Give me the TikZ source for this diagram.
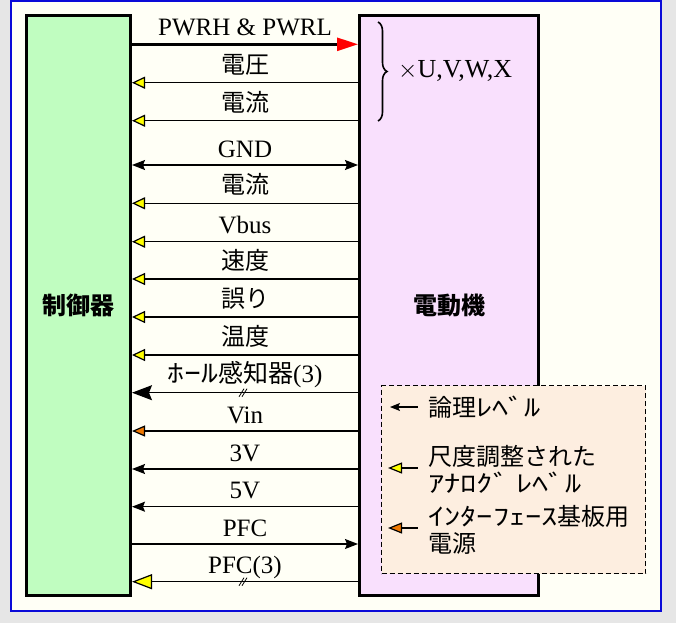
\documentclass[tikz,border=0pt]{standalone}
\usepackage{fontspec}
\usepackage{graphicx}
\setmainfont{Liberation Serif}
\newfontfamily\jp{Noto Sans CJK JP}
\newcommand\hkana[1]{\scalebox{1.35}[1]{#1}}
\usetikzlibrary{arrows.meta,decorations.pathreplacing}
\definecolor{outerbg}{HTML}{E6E6E6}
\definecolor{innerbg}{HTML}{FFFFF6}
\definecolor{frameblue}{HTML}{0A0AD8}
\definecolor{ctrlgreen}{HTML}{C0FDC0}
\definecolor{motorpink}{HTML}{F9E0FD}
\definecolor{legendfill}{HTML}{FDEEE0}
\definecolor{tipyellow}{HTML}{FFFF00}
\definecolor{tiporange}{HTML}{F07800}
\tikzset{
  ytip/.tip={Triangle[length=13pt,width=12pt,fill=tipyellow]},
  bytip/.tip={Triangle[length=20pt,width=15pt,fill=tipyellow]},
  bbtip/.tip={Stealth[length=20pt,width=15pt,inset=3pt]},
  btip/.tip={Stealth[length=13pt,width=10pt,inset=2pt]},
  rtip/.tip={Triangle[length=21pt,width=13pt,color=red]},
  otip/.tip={Triangle[length=13pt,width=11pt,fill=tiporange]},
  lbtip/.tip={Stealth[length=10pt,width=8pt,inset=2pt]},
  lytip/.tip={Triangle[length=14pt,width=11pt,fill=tipyellow]},
  lotip/.tip={Triangle[length=14pt,width=11pt,fill=tiporange]},
}
\begin{document}
\begin{tikzpicture}[x=1pt,y=-1pt,
  box/.style={draw=black, line width=3pt, inner sep=0pt, minimum height=580pt,
              font=\jp\bfseries\fontsize{24}{28}\selectfont},
  wire/.style={line width=1.2pt},
  lbl/.style={font=\fontsize{25}{28}\selectfont, anchor=base, inner sep=0pt, yshift=8pt},
  jlbl/.style={font=\jp\fontsize{24}{28}\selectfont, anchor=base, inner sep=0pt, yshift=9.5pt},
  leg/.style={font=\jp\fontsize{24}{27}\selectfont, anchor=west, inner sep=0pt, align=left},
  slash/.style={line width=0.8pt},
]
\useasboundingbox (0,0) rectangle (676,623);
\fill[outerbg] (0,0) rectangle (676,623);
\draw[frameblue, line width=2pt, fill=innerbg] (11,1) rectangle (661,611);

\node[box, fill=ctrlgreen, minimum width=104pt] (ctrl) at (78.5,305.5) {制御器};
\node[box, fill=motorpink, minimum width=179pt] (motor) at (449,305.5) {電動機};

% wires
\draw[line width=2.5pt, -rtip] (ctrl.east |- 0,44.3) -- (motor.west |- 0,44.3)
  node[lbl, midway, yshift=1pt] {PWRH \& PWRL};
\draw[wire, ytip-] (ctrl.east |- 0,82.7) -- (motor.west |- 0,82.7)
  node[jlbl, midway] {電圧};
\draw[wire, ytip-] (ctrl.east |- 0,120.7) -- (motor.west |- 0,120.7)
  node[jlbl, midway] {電流};
\draw[wire, btip-btip] (ctrl.east |- 0,165) -- (motor.west |- 0,165)
  node[lbl, midway] {GND};
\draw[wire, ytip-] (ctrl.east |- 0,203.3) -- (motor.west |- 0,203.3)
  node[jlbl, midway] {電流};
\draw[wire, ytip-] (ctrl.east |- 0,241.7) -- (motor.west |- 0,241.7)
  node[lbl, midway] {Vbus};
\draw[wire, ytip-] (ctrl.east |- 0,279) -- (motor.west |- 0,279)
  node[jlbl, midway] {速度};
\draw[wire, ytip-] (ctrl.east |- 0,317) -- (motor.west |- 0,317)
  node[jlbl, midway] {誤り};
\draw[wire, ytip-] (ctrl.east |- 0,355) -- (motor.west |- 0,355)
  node[jlbl, midway] {温度};
\draw[wire, bbtip-] (ctrl.east |- 0,392.7) -- (motor.west |- 0,392.7)
  node[lbl, midway, yshift=2pt] {{\jp\hkana{ﾎｰﾙ}感知器}(3)}
  coordinate[pos=0.5] (hall);
\draw[wire, otip-] (ctrl.east |- 0,431) -- (motor.west |- 0,431)
  node[lbl, midway] {Vin};
\draw[wire, btip-] (ctrl.east |- 0,469) -- (motor.west |- 0,469)
  node[lbl, midway] {3V};
\draw[wire, btip-] (ctrl.east |- 0,506.7) -- (motor.west |- 0,506.7)
  node[lbl, midway] {5V};
\draw[wire, -btip] (ctrl.east |- 0,544) -- (motor.west |- 0,544)
  node[lbl, midway] {PFC};
\draw[wire, bytip-] (ctrl.east |- 0,581.7) -- (motor.west |- 0,581.7)
  node[lbl, midway] {PFC(3)}
  coordinate[pos=0.5] (pfc3);

% double slash marks
\foreach \c in {hall,pfc3}{
  \draw[slash] ([xshift=-6pt,yshift=-4pt]\c) -- ([xshift=-1pt,yshift=4pt]\c);
  \draw[slash] ([xshift=-3pt,yshift=-4pt]\c) -- ([xshift=2pt,yshift=4pt]\c);
}

% brace
\draw[line width=1.6pt, decorate, decoration={brace, amplitude=9pt}]
  (378,22) -- (378,121);
\node[font=\fontsize{26}{28}\selectfont, anchor=west, inner sep=0pt] (uvwx) at (398,71) {$\times$U,V,W,X};

% legend
\node[draw, dash pattern=on 5pt off 3pt, line width=1.3pt, fill=legendfill,
      minimum width=264pt, minimum height=188pt, anchor=north west, inner sep=0pt]
  (legend) at (381,385) {};
\node[leg] (lg1) at (428,407) {論理\hkana{ﾚﾍﾞﾙ}};
\node[leg] (lg2) at (428,469) {尺度調整された\\\hkana{ｱﾅﾛｸﾞ ﾚﾍﾞﾙ}};
\node[leg] (lg3) at (428,530) {\hkana{ｲﾝﾀｰﾌｪｰｽ}基板用\\電源};
\coordinate (a1) at (390,407);
\coordinate (a2) at (388,468);
\coordinate (a3) at (388,528);
\draw[wire, lbtip-] (a1) -- (a1 -| 418,0);
\draw[wire, lytip-] (a2) -- (a2 -| 418,0);
\draw[wire, lotip-] (a3) -- (a3 -| 418,0);
\end{tikzpicture}
\end{document}
